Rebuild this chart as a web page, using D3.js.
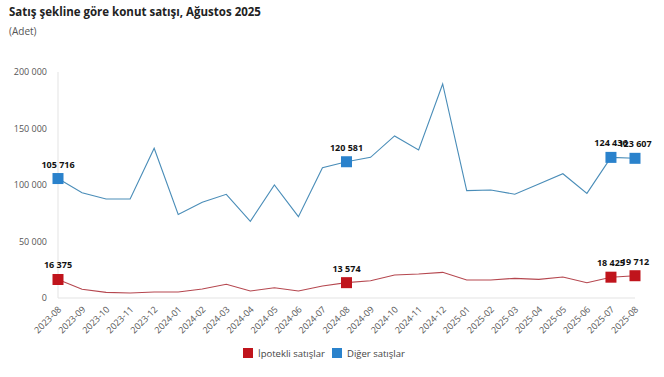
<!DOCTYPE html>
<html>
<head>
<meta charset="utf-8">
<script src="https://cdn.jsdelivr.net/npm/d3@7"></script>
<style>
  body { margin: 0; background: #fff; }
  text { font-family: "Open Sans", "Noto Sans", sans-serif; }
</style>
</head>
<body>
<div id="chart"></div>
<script>
const width = 664;
const height = 377;

// Months (x categories)
const months = ["2023-08","2023-09","2023-10","2023-11","2023-12","2024-01","2024-02","2024-03",
  "2024-04","2024-05","2024-06","2024-07","2024-08","2024-09","2024-10","2024-11","2024-12",
  "2025-01","2025-02","2025-03","2025-04","2025-05","2025-06","2025-07","2025-08"];

// İpotekli satışlar
const mortgage = [16375, 7700, 5000, 4400, 5300, 5300, 8000, 12100, 6200, 9100, 6200, 10600, 13574,
  15300, 20300, 21200, 22700, 15900, 15900, 17400, 16500, 18600, 13500, 18425, 19712];

// Diğer satışlar
const other = [105716, 93200, 87600, 87600, 132500, 74000, 84700, 91800, 67900, 100000, 72000, 115300, 120581,
  124500, 143400, 131000, 189400, 95000, 95600, 91800, 100900, 110000, 92600, 124436, 123607];

// points that get a marker + label
const labelled = ["2023-08", "2024-08", "2025-07", "2025-08"];

const yTicks = [0, 50000, 100000, 150000, 200000];

const fmt = v => d3.format(",")(v).replace(/,/g, " ");

const svg = d3.select("#chart").append("svg")
  .attr("width", width)
  .attr("height", height);

// title
svg.append("text")
  .attr("x", 9).attr("y", 16)
  .attr("font-size", 11.5).attr("font-weight", "bold").attr("fill", "#222")
  .text("Satış şekline göre konut satışı, Ağustos 2025");
svg.append("text")
  .attr("x", 9).attr("y", 35)
  .attr("font-size", 10).attr("fill", "#555")
  .text("(Adet)");

const x = d3.scalePoint().domain(months).range([58, 635]);
const y = d3.scaleLinear().domain([0, 200000]).range([298, 72]);

// y axis labels
svg.append("g").selectAll("text")
  .data(yTicks).enter().append("text")
  .attr("x", 47).attr("y", d => y(d) + 3)
  .attr("text-anchor", "end")
  .attr("font-size", 9).attr("fill", "#555")
  .text(fmt);

// axis lines
svg.append("line")
  .attr("x1", 58).attr("x2", 58).attr("y1", y(200000)).attr("y2", y(0))
  .attr("stroke", "#e3e3e3");
svg.append("line")
  .attr("x1", 58).attr("x2", 635).attr("y1", y(0)).attr("y2", y(0))
  .attr("stroke", "#e3e3e3");

// x labels
svg.append("g").selectAll("text")
  .data(months).enter().append("text")
  .attr("transform", d => `translate(${x(d) + 4},${y(0) + 12}) rotate(-45)`)
  .attr("text-anchor", "end")
  .attr("font-size", 9).attr("fill", "#555")
  .text(d => d);

const series = [
  { name: "İpotekli satışlar", values: mortgage, line: "#b5474f", mark: "#c0141c" },
  { name: "Diğer satışlar", values: other, line: "#4a8db8", mark: "#2a82cc" }
];

const line = d3.line()
  .x((d, i) => x(months[i]))
  .y(d => y(d));

series.forEach(s => {
  svg.append("path")
    .datum(s.values)
    .attr("fill", "none")
    .attr("stroke", s.line)
    .attr("stroke-width", 1.1)
    .attr("d", line);

  const pts = s.values.map((v, i) => ({ m: months[i], v })).filter(d => labelled.includes(d.m));

  svg.append("g").selectAll("rect")
    .data(pts).enter().append("rect")
    .attr("x", d => x(d.m) - 5.5).attr("y", d => y(d.v) - 5.5)
    .attr("width", 11).attr("height", 11)
    .attr("fill", s.mark);

  svg.append("g").selectAll("text")
    .data(pts).enter().append("text")
    .attr("x", d => x(d.m)).attr("y", d => y(d.v) - 11)
    .attr("text-anchor", "middle")
    .attr("font-family", "Liberation Sans, Arial, sans-serif")
    .attr("font-size", 9).attr("font-weight", "bold").attr("fill", "#111")
    .text(d => fmt(d.v));
});

// legend
const legend = svg.append("g");
const legendX = [243, 332];
series.forEach((s, i) => {
  legend.append("rect")
    .attr("x", legendX[i]).attr("y", 348)
    .attr("width", 10).attr("height", 10)
    .attr("fill", s.mark);
  legend.append("text")
    .attr("x", legendX[i] + 15).attr("y", 357)
    .attr("font-size", 9.5).attr("fill", "#444")
    .text(s.name);
});
</script>
</body>
</html>
